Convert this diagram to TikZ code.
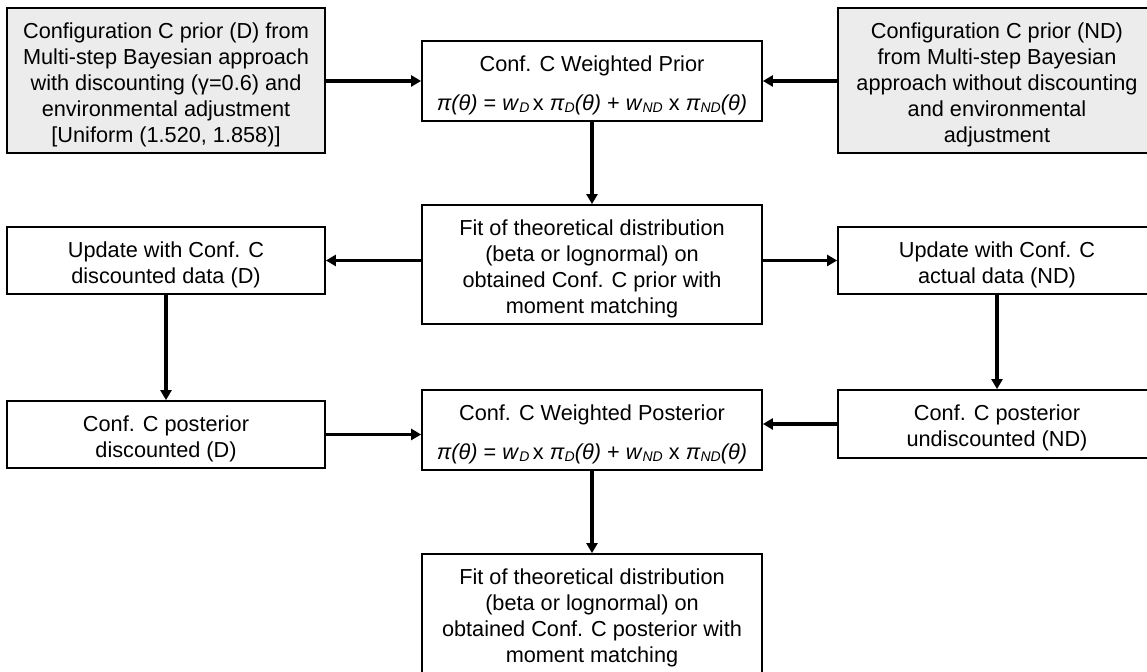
\documentclass[tikz,border=0pt]{standalone}
\usepackage{fontspec}
\setmainfont{Liberation Sans}
\usetikzlibrary{arrows.meta,calc}
\definecolor{boxgray}{RGB}{236,236,236}
\newcommand{\bodyfont}{\fontsize{10.85pt}{13pt}\selectfont}
\newcommand{\subx}[1]{\raisebox{-0.25ex}{\fontsize{7pt}{7pt}\selectfont\textit{#1}}}
\newcommand{\mixform}{\textit{π(θ)} = \textit{w}\subx{D}\,x \textit{π}\subx{D}\textit{(θ)} + \textit{w}\subx{ND} x \textit{π}\subx{ND}\textit{(θ)}}
\begin{document}
\begin{tikzpicture}[x=0.5pt,y=-0.5pt,
  box/.style={draw=black, line width=0.9pt, fill=white, inner sep=0pt},
  graybox/.style={box, fill=boxgray},
  txt/.style={align=center, inner sep=0pt, font=\bodyfont},
  wideS/.style={minimum width=159pt},
  wideC/.style={minimum width=170pt},
  arr/.style={line width=1.6pt, -{Triangle[length=5pt,width=5.5pt]}}
]
\useasboundingbox (0,0) rectangle (1147,672);
\clip (0,0) rectangle (1147,672);
% frames
\node[graybox, wideS, minimum height=72.5pt] (A) at (166,80.5) {};
\node[box, wideC, minimum height=40pt] (B) at (592,81) {};
\node[graybox, wideS, minimum height=72.5pt] (C) at (997,80.5) {};
\node[box, wideC, minimum height=59.5pt] (D) at (592,264.5) {};
\node[box, wideS, minimum height=33.5pt] (E) at (166,260.5) {};
\node[box, wideS, minimum height=33.5pt] (F) at (997,260.5) {};
\node[box, wideS, minimum height=33.5pt] (G) at (166,434.5) {};
\node[box, wideS, minimum height=34pt] (H) at (997,424) {};
\node[box, wideC, minimum height=40pt] (I) at (592,430) {};
\node[box, wideC, minimum height=59.5pt] (J) at (592,613.5) {};
% texts
\node[txt] (At) at ([yshift=-2pt]A.center)
  {Configuration C prior (D) from\\Multi-step Bayesian approach\\with discounting (γ=0.6) and\\environmental adjustment\\{[}Uniform (1.520, 1.858)]};
\node[txt] (Bt) at ([yshift=-2pt]B.center) {Conf. C Weighted Prior\\[6.5pt]\mixform};
\node[txt] (Ct) at ([yshift=-2pt]C.center)
  {Configuration C prior (ND)\\from Multi-step Bayesian\\approach without discounting\\and environmental\\adjustment};
\node[txt] (Dt) at ([yshift=-2pt]D.center)
  {Fit of theoretical distribution\\(beta or lognormal) on\\obtained Conf. C prior with\\moment matching};
\node[txt] (Et) at ([yshift=-2pt]E.center) {Update with Conf. C\\discounted data (D)};
\node[txt] (Ft) at ([yshift=-2pt]F.center) {Update with Conf. C\\actual data (ND)};
\node[txt] (Gt) at ([yshift=-2pt]G.center) {Conf. C posterior\\discounted (D)};
\node[txt] (Ht) at ([yshift=-2pt]H.center) {Conf. C posterior\\undiscounted (ND)};
\node[txt] (It) at ([yshift=-2pt]I.center) {Conf. C Weighted Posterior\\[6.5pt]\mixform};
\node[txt] (Jt) at ([yshift=-2pt]J.center)
  {Fit of theoretical distribution\\(beta or lognormal) on\\obtained Conf. C posterior with\\moment matching};
% connectors
\draw[arr] (A.east |- B.west) -- (B.west);
\draw[arr] (C.west |- B.east) -- (B.east);
\draw[arr] (B.south) -- (D.north);
\draw[arr] (D.west |- E.east) -- (E.east);
\draw[arr] (D.east |- F.west) -- (F.west);
\draw[arr] (E.south) -- (G.north);
\draw[arr] (F.south) -- (H.north);
\draw[arr] (G.east) -- (G.east -| I.west);
\draw[arr] (H.west) -- (H.west -| I.east);
\draw[arr] (I.south) -- (J.north);
\end{tikzpicture}
\end{document}
